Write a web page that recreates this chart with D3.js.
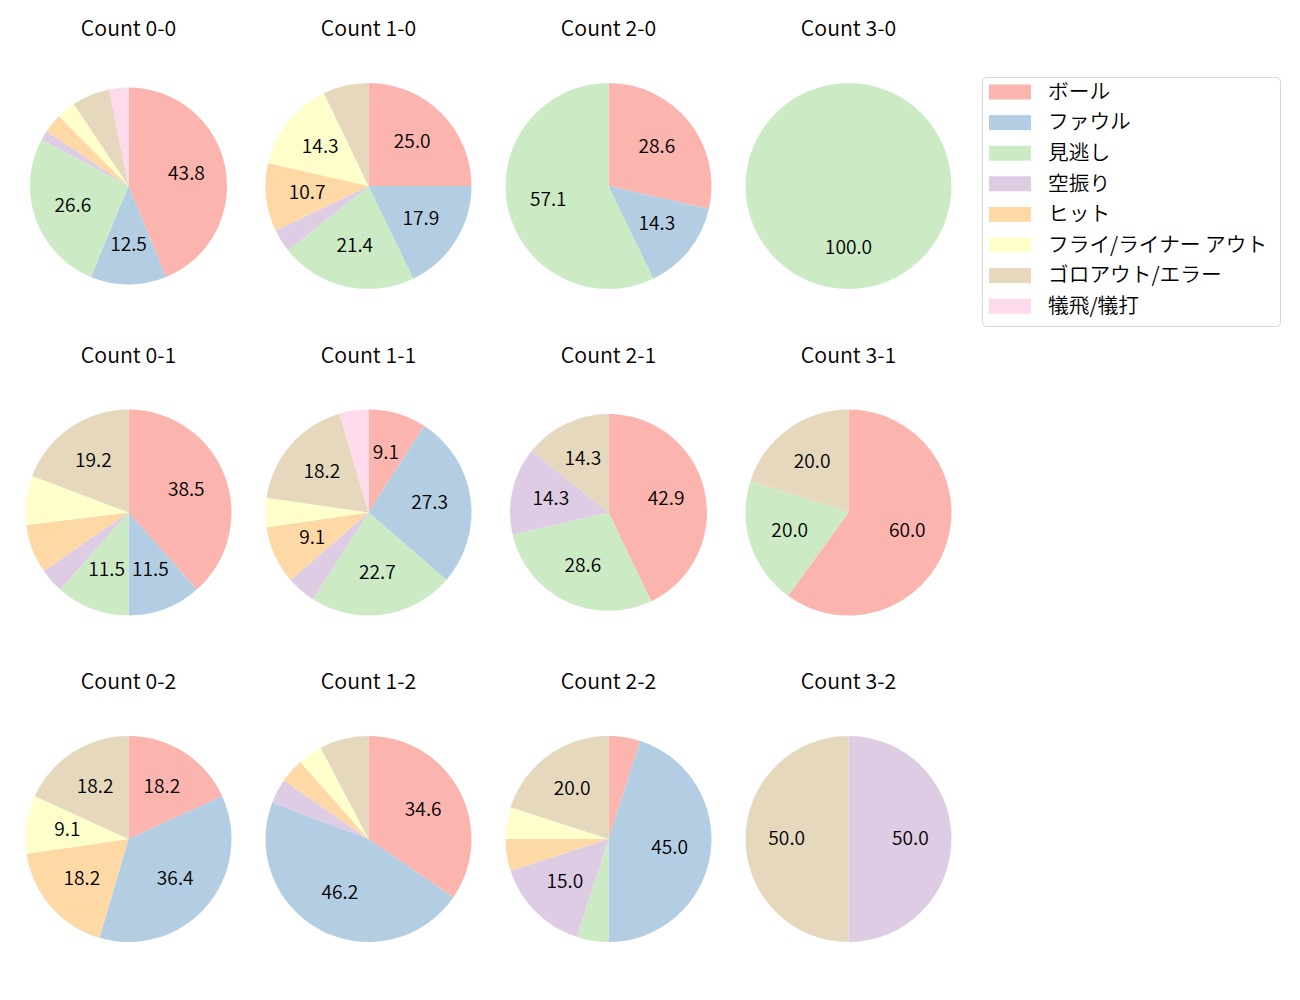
<!DOCTYPE html>
<html>
<head>
<meta charset="utf-8">
<script src="https://d3js.org/d3.v7.min.js"></script>
<style>
body { margin: 0; background: white; }
text { font-family: "Noto Sans CJK JP", "DejaVu Sans", sans-serif; font-weight: 350; fill: #000; }
</style>
</head>
<body>
<script>
// outcome categories (legend order = slice order)
const categories = ["ボール", "ファウル", "見逃し", "空振り", "ヒット", "フライ/ライナー アウト", "ゴロアウト/エラー", "犠飛/犠打"];
const colors = ["#fbb4ae", "#b3cde3", "#ccebc5", "#decbe4", "#fed9a6", "#ffffcc", "#e5d8bd", "#fddaec"];

// pitch counts per ball-strike situation
const counts = ["0-0", "1-0", "2-0", "3-0", "0-1", "1-1", "2-1", "3-1", "0-2", "1-2", "2-2", "3-2"];
const c00 = [28, 8, 17, 1, 2, 2, 4, 2];
const c10 = [7, 5, 6, 1, 3, 4, 2, 0];
const c20 = [2, 1, 4, 0, 0, 0, 0, 0];
const c30 = [0, 0, 1, 0, 0, 0, 0, 0];
const c01 = [10, 3, 3, 1, 2, 2, 5, 0];
const c11 = [2, 6, 5, 1, 2, 1, 4, 1];
const c21 = [3, 0, 2, 1, 0, 0, 1, 0];
const c31 = [3, 0, 1, 0, 0, 0, 1, 0];
const c02 = [2, 4, 0, 0, 2, 1, 2, 0];
const c12 = [9, 12, 0, 1, 1, 1, 2, 0];
const c22 = [1, 9, 1, 3, 1, 1, 4, 0];
const c32 = [0, 0, 0, 1, 0, 0, 1, 0];
const values = [c00, c10, c20, c30, c01, c11, c21, c31, c02, c12, c22, c32];

let width = 1300, height = 1000;
let svg = d3.select("body").append("svg")
    .attr("width", width).attr("height", height);

let colX = d3.scalePoint().domain([0, 1, 2, 3]).range([128.5, 848.5]);
let rowY = d3.scalePoint().domain([0, 1, 2]).range([186, 839]);
let color = d3.scaleOrdinal().domain(categories).range(colors);
let smaller = {"0-0": 98.5, "2-1": 98.5};

let pie = d3.pie().sort(null).value(d => d);

counts.forEach(function(name, i) {
    let col = i % 4, row = Math.floor(i / 4);
    let cx = colX(col), cy = rowY(row);
    let r = smaller[name] || 103;
    let total = d3.sum(values[i]);
    let g = svg.append("g").attr("transform", `translate(${cx},${cy})`);
    let arc = d3.arc().innerRadius(0).outerRadius(r);
    let arcs = pie(values[i]);

    g.selectAll("path")
        .data(arcs.filter(d => d.value > 0))
        .enter().append("path")
        .attr("d", arc)
        .attr("fill", d => colors[d.index]);

    g.selectAll("text.pct")
        .data(arcs.filter(d => d.value / total * 100 >= 9))
        .enter().append("text")
        .attr("class", "pct")
        .attr("x", d => Math.sin((d.startAngle + d.endAngle) / 2) * r * 0.6)
        .attr("y", d => -Math.cos((d.startAngle + d.endAngle) / 2) * r * 0.6)
        .attr("dy", "0.3em")
        .attr("text-anchor", "middle")
        .attr("font-size", "19.2px")
        .text(d => (d.value / total * 100).toFixed(1));

    svg.append("text")
        .attr("x", cx)
        .attr("y", cy - 157)
        .attr("dy", "0.33em")
        .attr("text-anchor", "middle")
        .attr("font-size", "21.3px")
        .text("Count " + name);
});

// legend
let legend = svg.append("g").attr("transform", "translate(982,77)");
legend.append("rect")
    .attr("x", 0.5).attr("y", 0.5)
    .attr("width", 298).attr("height", 249)
    .attr("rx", 4)
    .attr("fill", "white")
    .attr("stroke", "#d6d6d6");
let item = legend.selectAll("g.item")
    .data(categories)
    .enter().append("g")
    .attr("class", "item")
    .attr("transform", (d, i) => `translate(0,${15 + i * 30.6})`);
item.append("rect")
    .attr("x", 7).attr("y", -7.5)
    .attr("width", 42).attr("height", 15)
    .attr("fill", d => color(d));
item.append("text")
    .attr("x", 66)
    .attr("dy", "0.33em")
    .attr("font-size", "20.7px")
    .text(d => d);
</script>
</body>
</html>
